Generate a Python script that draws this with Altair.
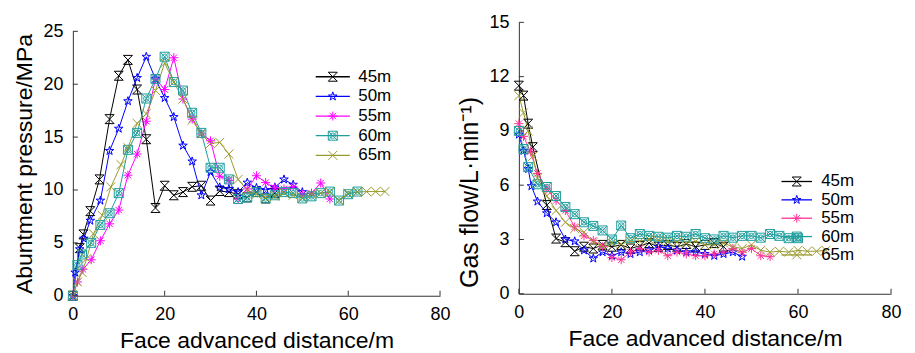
import altair as alt
import pandas as pd

SERIES = ["45m", "50m", "55m", "60m", "65m"]
X_TICKS = [0, 20, 40, 60, 80]
L_Y_TICKS = [0, 5, 10, 15, 20, 25]
R_Y_TICKS = [0, 3, 6, 9, 12, 15]

# ---- Left panel: abutment pressure (MPa) vs face advanced distance (m)
L45_X = [0, 1.5, 2.3, 3.8, 5.8, 8, 10, 12, 14, 16, 18, 20, 22, 24, 26, 28, 30, 32, 34, 36, 38, 40, 42, 44]
L45_Y = [0, 4.5, 5.8, 8.0, 11.0, 16.7, 20.8, 22.3, 19.5, 14.8, 8.3, 10.4, 9.5, 9.8, 10.3, 10.4, 9.0, 9.9, 9.8, 9.6, 9.3, 9.8, 9.2, 9.7]
L50_X = [0, 0.5, 1.5, 2.4, 3.8, 6, 8, 10, 12, 14, 16, 18, 20, 22, 24, 26, 28, 30, 32, 34, 36, 38, 40, 42, 44, 46, 48, 50]
L50_Y = [0, 2.2, 4.4, 5.4, 7.1, 9.0, 13.7, 15.8, 18.4, 20.6, 22.6, 20.5, 18.7, 16.9, 14.2, 12.7, 9.5, 11.7, 10.25, 10.1, 9.8, 10.7, 10.2, 10.0, 10.25, 11.0, 10.5, 9.8]
L55_X = [0, 1, 2.2, 4, 6, 8, 10, 12, 14, 16, 18, 20, 22, 24, 26, 28, 30, 32, 34, 36, 38, 40, 42, 44, 46, 48, 50, 52, 54, 56]
L55_Y = [0, 1.3, 2.5, 3.4, 5.2, 6.8, 8.1, 11.4, 13.4, 16.5, 20.5, 19.5, 22.5, 18.6, 16.7, 15.3, 14.65, 11.3, 10.9, 9.15, 10.1, 11.35, 10.7, 10.2, 10.1, 10.3, 9.6, 9.7, 10.66, 9.15]
L60_X = [0, 1, 2, 4, 6, 8, 10, 12, 14, 16, 18, 20, 22, 24, 26, 28, 30, 32, 34, 36, 38, 40, 42, 44, 46, 48, 50, 52, 54, 56, 58, 60, 62]
L60_Y = [0, 2.9, 3.9, 5.0, 6.7, 7.8, 9.7, 13.8, 15.4, 18.65, 20.5, 22.6, 20.2, 19.4, 17.3, 15.4, 12.1, 12.1, 11.0, 9.15, 9.3, 9.8, 9.2, 9.5, 9.8, 9.7, 9.2, 9.4, 9.7, 9.85, 9.0, 9.6, 9.85]
L65_X = [0, 1, 2, 3, 4.5, 6.4, 8.3, 10.5, 12, 14, 16, 18, 20, 22, 24, 26, 28, 30, 32, 34, 36, 38, 40, 42, 44, 46, 48, 50, 52, 54, 56, 58, 60, 62, 64, 66, 68]
L65_Y = [0, 1.3, 2.2, 3.5, 5.85, 7.6, 10.3, 12.4, 14.0, 16.3, 17.2, 19.4, 22.0, 20.2, 18.6, 16.6, 15.3, 14.4, 14.5, 13.4, 11.0, 10.0, 9.6, 9.3, 9.4, 9.7, 9.5, 9.3, 9.6, 9.7, 9.8, 9.0, 9.7, 9.8, 9.85, 9.85, 9.85]

# ---- Right panel: gas flow (L/min) vs face advanced distance (m)
R45_X = [0, 1, 2, 3, 6, 8, 10, 12, 14, 16, 18, 20, 22, 24, 26, 28, 30, 32, 34, 36, 38, 40, 42, 44]
R45_Y = [11.5, 10.95, 9.4, 8.1, 4.9, 3.05, 2.85, 2.35, 2.6, 2.5, 2.7, 2.6, 2.7, 2.5, 2.65, 2.8, 2.6, 2.7, 2.6, 2.75, 2.6, 2.7, 2.8, 2.6]
R50_X = [0, 1, 2, 2.7, 4, 6, 8, 10, 12, 14, 16, 18, 20, 22, 24, 26, 28, 30, 32, 34, 36, 38, 40, 42, 44, 46, 48]
R50_Y = [8.8, 7.9, 6.9, 5.95, 5.1, 4.45, 3.95, 3.0, 2.9, 2.4, 1.95, 2.3, 2.1, 2.3, 2.2, 2.3, 2.4, 2.6, 2.5, 2.4, 2.3, 2.3, 2.2, 2.1, 2.2, 2.3, 2.05]
R55_X = [0, 1, 2.5, 4, 6, 8, 10, 12, 14, 16, 18, 20, 22, 24, 26, 28, 30, 32, 34, 36, 38, 40, 42, 44, 46, 48, 50, 52, 54]
R55_Y = [9.4, 8.7, 7.85, 6.65, 5.8, 5.15, 4.6, 3.7, 3.2, 2.95, 2.6, 2.0, 1.88, 2.3, 2.5, 2.3, 2.4, 2.1, 2.3, 2.2, 2.1, 2.1, 2.2, 2.3, 2.5, 2.3, 2.5, 2.1, 2.05]
R60_X = [0, 1, 2, 4, 6, 8, 10, 12, 14, 16, 18, 20, 22, 24, 26, 28, 30, 32, 34, 36, 38, 40, 42, 44, 46, 48, 50, 52, 54, 56, 58, 60]
R60_Y = [9.0, 8.0, 7.0, 6.05, 5.9, 5.4, 4.8, 4.4, 3.95, 3.75, 3.5, 3.0, 3.77, 3.07, 3.3, 3.2, 3.15, 3.1, 3.2, 3.15, 3.3, 3.07, 3.0, 3.2, 3.1, 3.2, 3.2, 3.1, 3.3, 3.2, 3.07, 3.07]
R65_X = [0, 1, 2, 3, 4, 6, 8, 10, 12, 14, 16, 18, 20, 22, 24, 26, 28, 30, 32, 34, 36, 38, 40, 42, 44, 46, 48, 50, 52, 54, 56, 58, 60, 62, 64, 66]
R65_Y = [10.95, 10.0, 9.0, 7.6, 6.4, 5.4, 4.6, 3.95, 3.6, 3.4, 2.85, 2.6, 2.8, 2.75, 2.9, 2.9, 3.0, 2.95, 2.9, 2.85, 2.8, 2.9, 2.7, 2.7, 2.8, 2.6, 2.5, 2.7, 2.4, 2.3, 2.35, 2.3, 2.4, 2.35, 2.35, 2.4]

LEFT_COLORS = ["#000000", "#0000ff", "#ff00ff", "#1f9e9e", "#9a9a2e"]
RIGHT_COLORS = ["#000000", "#0000ff", "#ff3399", "#1f9e9e", "#9a9a2e"]

# marker glyphs (custom symbol paths in the unit square)
P45 = "M-1,-1L1,1M-1,1L1,-1M-1,-1L1,-1M-1,1L1,1"
P50 = ("M0,-1L0.2245,-0.309L0.9511,-0.309L0.3633,0.118L0.5878,0.809L0,0.382"
       "L-0.5878,0.809L-0.3633,0.118L-0.9511,-0.309L-0.2245,-0.309Z")
P55 = "M0,-1L0,1M-1,0L1,0M-0.71,-0.71L0.71,0.71M-0.71,0.71L0.71,-0.71"
P60 = ("M-1,-1L1,-1L1,1L-1,1ZM-1,-1L1,1M-1,1L1,-1"
       "M0.6,0A0.6,0.6 0 1,1 -0.6,0A0.6,0.6 0 1,1 0.6,0")
P65 = "M-1,-1L1,1M-1,1L1,-1"
PATHS = [P45, P50, P55, P60, P65]

FONT = "Liberation Sans"
MSIZE = 81


def long_df(xs, ys):
    rows = []
    for name, xv, yv in zip(SERIES, xs, ys):
        for a, b in zip(xv, yv):
            rows.append({"x": a, "y": b, "s": name, "sp": name})
    return pd.DataFrame(rows)


def panel(df, ydom, yrange, yticks, ytitle, colors, w, h, leg_x, leg_y, row_pad,
          half_line, label_off, ytitle_extra):
    xscale = alt.Scale(domain=[0, 80], nice=False, zero=False)
    yscale = alt.Scale(domain=ydom, range=yrange, nice=False, zero=False)
    xaxis = alt.Axis(values=X_TICKS, title="Face advanced distance/m")
    yaxis = alt.Axis(values=yticks, title=ytitle, **ytitle_extra)
    base = alt.Chart(df)
    leg_line = f"M-{half_line},0L{half_line},0"
    line_leg = alt.Legend(orient="none", legendX=leg_x, legendY=leg_y, title=None,
                          symbolType=leg_line, symbolSize=MSIZE, symbolStrokeWidth=1.3,
                          rowPadding=row_pad, labelOffset=label_off, padding=0)
    pt_leg = alt.Legend(orient="none", legendX=leg_x, legendY=leg_y, title=None,
                        symbolSize=MSIZE, symbolStrokeWidth=1, symbolFillColor="transparent",
                        rowPadding=row_pad, labelOffset=label_off, padding=0, labelOpacity=0)
    lines = base.mark_line(strokeWidth=1).encode(
        x=alt.X("x:Q", scale=xscale, axis=xaxis),
        y=alt.Y("y:Q", scale=yscale, axis=yaxis),
        color=alt.Color("s:N", scale=alt.Scale(domain=SERIES, range=colors), legend=line_leg),
        order="x:Q",
    )
    pts = base.mark_point(filled=False, size=MSIZE, strokeWidth=1, opacity=1).encode(
        x=alt.X("x:Q", scale=xscale, axis=xaxis),
        y=alt.Y("y:Q", scale=yscale, axis=yaxis),
        color=alt.Color("sp:N", scale=alt.Scale(domain=SERIES, range=colors), legend=pt_leg),
        shape=alt.Shape("sp:N", scale=alt.Scale(domain=SERIES, range=PATHS), legend=pt_leg),
    )
    xt = alt.Chart(pd.DataFrame({"x": X_TICKS})).mark_rule(color="#333", strokeWidth=1).encode(
        x=alt.X("x:Q", scale=xscale, axis=xaxis), y=alt.value(h), y2=alt.value(h - 5))
    yt = alt.Chart(pd.DataFrame({"y": yticks})).mark_rule(color="#333", strokeWidth=1).encode(
        y=alt.Y("y:Q", scale=yscale, axis=yaxis), x=alt.value(0), x2=alt.value(5))
    return alt.layer(lines, pts, xt, yt).resolve_scale(
        color="independent", shape="independent").properties(width=w, height=h)


left_df = long_df([L45_X, L50_X, L55_X, L60_X, L65_X], [L45_Y, L50_Y, L55_Y, L60_Y, L65_Y])
right_df = long_df([R45_X, R50_X, R55_X, R60_X, R65_X], [R45_Y, R50_Y, R55_Y, R60_Y, R65_Y])

left = panel(left_df, [0, 25], [274, 9], L_Y_TICKS, "Abuntment pressure/MPa",
             LEFT_COLORS, 368, 274, 252, 46, 1.7, 3.8, 17, {})
right = panel(right_df, [0, 15], [272, 0], R_Y_TICKS, "Gas flow/L·min⁻¹)",
              RIGHT_COLORS, 373, 272, 270, 151, 0.4, 3.4, 16,
              {"titleY": 170, "titleFontSize": 25})

chart = alt.hconcat(left, right, spacing=79, bounds="flush").resolve_scale(
    color="independent", shape="independent", x="independent", y="independent"
).configure_view(stroke=None).configure_axis(
    grid=False, ticks=False, domainColor="#333", domainWidth=1,
    labelFont=FONT, labelFontSize=18, labelColor="black", labelPadding=10,
    labelFlush=False, labelOverlap=False,
    titleFont=FONT, titleFontSize=23, titleFontWeight="normal", titleColor="black",
    titlePadding=6,
).configure_legend(
    labelFont=FONT, labelFontSize=17, labelColor="black",
).properties(padding={"left": 5, "top": 5, "right": 5, "bottom": 5})

chart.save("out.html", embed_options={"renderer": "svg", "actions": False})
